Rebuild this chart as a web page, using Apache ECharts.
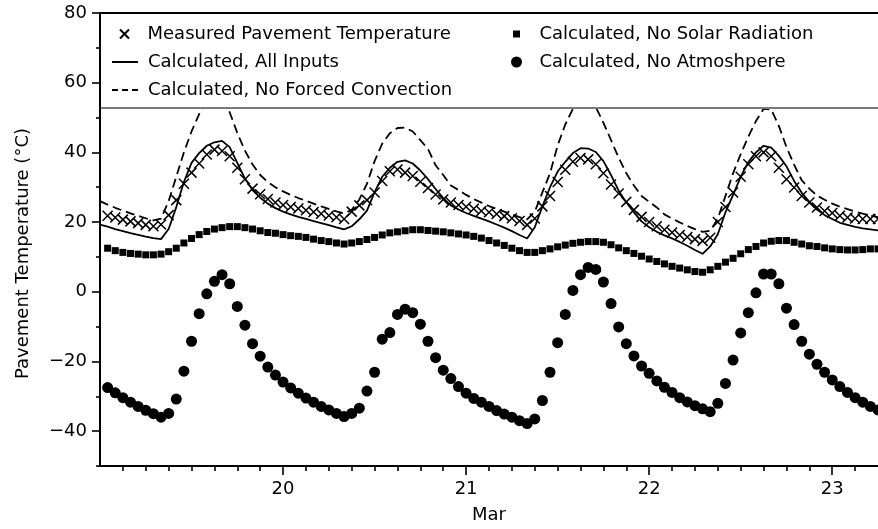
<!DOCTYPE html>
<html>
<head>
<meta charset="utf-8">
<script src="https://cdn.jsdelivr.net/npm/echarts@6/dist/echarts.min.js"></script>
<style>
  html, body { margin: 0; padding: 0; background: #fff; }
  #chart { width: 878px; height: 529px; }
</style>
</head>
<body>
<div id="chart"></div>
<script>
// Hourly samples starting 19 March 00:00 (x axis is the day of March)
const startDay = 19;

// Measured pavement temperature (°C), one value per hour
const measured = [
  null,
  21.8, 21.3, 20.7, 20.2, 19.7, 19.2, 18.8, 19.3, 22.0, 26.3,
  31.0, 34.2, 36.8, 39.4, 40.8, 40.4, 38.9, 35.6, 32.3, 29.6,
  28.0, 26.6, 25.6, 24.9, 24.3, 23.9, 23.4, 22.9, 22.4, 21.9,
  21.4, 20.9, 23.0, 24.8, 26.3, 28.5, 31.8, 34.6, 35.1, 34.2,
  33.2, 31.6, 29.8, 27.9, 26.5, 25.6, 24.9, 24.4, 23.8, 23.2,
  22.8, 22.3, 21.7, 21.1, 20.3, 19.2, 21.0, 24.5, 27.5, 31.5,
  35.0, 37.3, 38.4, 38.0, 36.6, 34.0, 30.8, 28.2, 25.8, 23.5,
  21.5, 20.0, 18.8, 17.8, 17.0, 16.3, 15.7, 15.1, 14.6, 15.5,
  20.0, 24.3, 28.5, 33.0, 36.6, 38.9, 40.0, 38.9, 35.6, 32.3,
  29.9, 27.5, 25.6, 24.2, 23.2, 22.6, 21.8, 21.3, 21.0, 20.9,
  20.9, 20.9
];

// Model, all inputs
const allInputs = [
  19.3, 18.7, 18.0, 17.4, 16.8, 16.3, 15.8, 15.4, 15.1, 18.0,
  24.3, 31.5, 37.0, 39.8, 41.9, 42.9, 43.3, 41.5, 37.0, 32.5,
  29.2, 27.0, 25.3, 24.0, 23.0, 22.2, 21.5, 20.9, 20.3, 19.7,
  19.1, 18.5, 17.9, 18.8, 20.8, 23.3, 28.6, 33.0, 35.6, 37.3,
  37.7, 36.8, 34.8, 32.3, 29.5, 26.9, 24.8, 23.6, 22.6, 21.8,
  21.0, 20.2, 19.3, 18.4, 17.4, 16.3, 15.3, 18.5, 24.5, 30.0,
  34.5, 37.3, 39.8, 41.2, 41.1, 40.1, 37.5, 33.5, 29.0, 25.6,
  22.8, 20.2, 18.5, 17.2, 16.2, 15.3, 14.3, 13.2, 12.0, 10.9,
  13.0, 16.5, 22.8, 27.8, 33.0, 37.2, 40.0, 41.9, 41.4, 39.0,
  36.0, 31.8, 28.4, 25.8, 23.6, 22.0, 20.9, 19.8, 19.2, 18.6,
  18.2, 17.9, 17.6
];

// Model without forced convection
const noForcedConvection = [
  26.0, 25.0, 24.1, 23.3, 22.5, 21.8, 21.1, 20.5, 21.0, 26.0,
  33.0, 40.0, 46.0, 51.0, 54.5, 56.5, 55.5, 51.5, 45.6, 40.5,
  36.5, 33.5, 31.5, 30.0, 28.8, 27.8, 26.9, 26.1, 25.3, 24.5,
  23.8, 23.1, 22.5, 23.5, 26.5, 31.0, 37.5, 42.5, 45.5, 47.0,
  47.1, 46.0, 43.5, 41.0, 36.3, 33.5, 30.5, 29.2, 27.8, 26.6,
  25.6, 24.6, 23.8, 23.0, 22.2, 21.4, 20.8, 23.0, 28.5, 34.0,
  42.0, 48.0, 52.5, 55.0, 55.5, 53.0, 48.5, 43.5, 38.5, 34.0,
  30.5, 27.5, 25.8, 24.2, 22.2, 21.0, 19.9, 18.9, 18.0, 17.2,
  17.5, 21.0, 27.5, 34.0, 39.5, 44.5, 49.0, 52.5, 52.3, 47.6,
  41.5, 36.5, 32.0, 29.6, 27.6, 26.4, 25.3, 24.4, 23.7, 23.0,
  22.4, 21.8, 21.4
];

// Model without solar radiation
const noSolarRadiation = [
  null,
  12.5, 11.8, 11.3, 11.0, 10.8, 10.6, 10.6, 10.8, 11.5, 12.5,
  14.0, 15.3, 16.4, 17.3, 18.0, 18.4, 18.7, 18.7, 18.4, 18.0,
  17.5, 17.0, 16.8, 16.4, 16.1, 15.9, 15.6, 15.1, 14.7, 14.4,
  14.0, 13.7, 14.0, 14.4, 15.0, 15.6, 16.3, 16.9, 17.2, 17.5,
  17.8, 17.8, 17.6, 17.4, 17.2, 16.9, 16.6, 16.3, 15.9, 15.4,
  14.7, 14.0, 13.3, 12.5, 11.8, 11.3, 11.3, 11.8, 12.3, 12.9,
  13.4, 13.9, 14.2, 14.4, 14.4, 14.2, 13.5, 12.6, 11.8, 11.0,
  10.2, 9.4, 8.7, 8.0, 7.3, 6.8, 6.3, 5.8, 5.6, 6.3,
  7.3, 8.5, 9.6, 10.9, 12.1, 13.0, 14.0, 14.5, 14.7, 14.7,
  14.2, 13.7, 13.2, 13.0, 12.6, 12.3, 12.1, 12.0, 12.0, 12.1,
  12.3, 12.3
];

// Model without atmosphere
const noAtmosphere = [
  null,
  -27.5, -29.0, -30.4, -31.7, -32.9, -34.0, -35.0, -36.0, -34.9, -30.8,
  -22.8, -14.2, -6.3, -0.6, 3.0, 4.9, 2.3, -4.2, -9.6, -14.9,
  -18.5, -21.6, -23.9, -25.9, -27.6, -29.1, -30.5, -31.7, -32.9, -33.9,
  -34.9, -35.8, -34.9, -33.4, -28.5, -23.1, -13.6, -11.7, -6.5, -5.0,
  -6.0, -9.3, -14.2, -18.9, -22.5, -24.9, -27.2, -29.1, -30.6, -31.7,
  -32.9, -34.1, -35.1, -36.0, -37.0, -37.8, -36.5, -31.2, -23.1, -14.6,
  -6.5, 0.4, 4.9, 7.0, 6.4, 2.8, -3.4, -10.1, -14.9, -18.4,
  -21.3, -23.4, -25.6, -27.4, -28.9, -30.4, -31.6, -32.7, -33.6, -34.4,
  -32.0, -26.3, -19.6, -11.8, -6.0, -0.3, 5.1, 5.1, 2.3, -4.7,
  -9.4, -14.2, -17.9, -20.8, -23.1, -25.3, -27.2, -28.9, -30.4, -31.7,
  -32.9, -33.9
];

const seriesNames = [
  'Measured Pavement Temperature',
  'Calculated, All Inputs',
  'Calculated, No Forced Convection',
  'Calculated, No Solar Radiation',
  'Calculated, No Atmoshpere'
];

const xTickDays = [20, 21, 22, 23];
const yTickValues = [-40, -20, 0, 20, 40, 60, 80];
const yMinorTickValues = [-50, -30, -10, 10, 30, 50, 70];

const FONT = 'DejaVu Sans';
const FONT_SIZE = 18;
const CROSS = 'path://M0,0L10,10M0,10L10,0';
const SQUARE = 'path://M0,0h10v10h-10z';
const SOLID_ICON = 'path://M0,0h26v2h-26z';
const DASH_ICON = 'path://M0,0h6v2h-6zM10,0h6v2h-6zM20,0h6v2h-6z';

function toPoints(values) {
  return values.map((v, i) => [startDay + i / 24, v]);
}

const chart = echarts.init(document.getElementById('chart'), null, { renderer: 'canvas' });

const textStyle = { fontFamily: FONT, fontSize: FONT_SIZE, color: '#000' };
const legendText = { fontFamily: FONT, fontSize: FONT_SIZE, color: '#000', lineHeight: 18, padding: [0, 0, 0, 5] };
const legendBase = { orient: 'vertical', itemWidth: 26, itemGap: 10, padding: 0, textStyle: legendText, selectedMode: false };

chart.setOption({
  animation: false,
  backgroundColor: '#fff',
  grid: { left: 100, right: 0, top: 13, bottom: 61, containLabel: false },
  xAxis: {
    type: 'value',
    min: 19,
    max: 23.25,
    interval: 1,
    name: 'Mar',
    nameLocation: 'middle',
    nameGap: 40,
    nameTextStyle: textStyle,
    axisLine: { onZero: false, lineStyle: { color: '#000', width: 2 } },
    axisTick: { customValues: xTickDays, length: 9, lineStyle: { color: '#000', width: 1.6 } },
    minorTick: { show: true, splitNumber: 8, length: 5, lineStyle: { color: '#000', width: 1.6 } },
    axisLabel: Object.assign({ customValues: xTickDays, margin: 14 }, textStyle),
    splitLine: { show: false },
    minorSplitLine: { show: false }
  },
  yAxis: [
    {
      type: 'value',
      min: -50,
      max: 80,
      interval: 10,
      name: 'Pavement Temperature (°C)',
      nameLocation: 'middle',
      nameGap: 68,
      nameTextStyle: Object.assign({ padding: [0, 28, 0, 0] }, textStyle),
      axisLine: { onZero: false, lineStyle: { color: '#000', width: 2 } },
      axisTick: { customValues: yTickValues, length: 8, lineStyle: { color: '#000', width: 1.6 } },
      axisLabel: Object.assign({
        customValues: yTickValues,
        margin: 13,
        formatter: v => String(v).replace('-', '\u2212')
      }, textStyle),
      splitLine: { show: false }
    },
    {
      // short unlabelled ticks between the labelled ones
      type: 'value',
      min: -50,
      max: 80,
      interval: 10,
      position: 'left',
      axisLine: { show: false, onZero: false },
      axisTick: { customValues: yMinorTickValues, length: 4, lineStyle: { color: '#000', width: 1.6 } },
      axisLabel: { show: false },
      splitLine: { show: false }
    }
  ],
  legend: [
    Object.assign({}, legendBase, {
      data: [{ name: seriesNames[0], icon: CROSS, itemStyle: { color: 'transparent', borderColor: '#000', borderWidth: 2 } }],
      left: 119, top: 25, itemHeight: 9
    }),
    Object.assign({}, legendBase, {
      data: [
        { name: seriesNames[1], icon: SOLID_ICON, itemStyle: { color: '#000', borderWidth: 0 } },
        { name: seriesNames[2], icon: DASH_ICON, itemStyle: { color: '#000', borderWidth: 0 } }
      ],
      left: 112, top: 53, itemHeight: 2
    }),
    Object.assign({}, legendBase, {
      data: [{ name: seriesNames[3], icon: SQUARE, itemStyle: { color: '#000', borderWidth: 0 } }],
      left: 513, top: 25, itemHeight: 7
    }),
    Object.assign({}, legendBase, {
      data: [{ name: seriesNames[4], icon: 'circle', itemStyle: { color: '#000', borderWidth: 0 } }],
      left: 511, top: 53, itemHeight: 11
    })
  ],
  graphic: [
    // legend panel across the top of the plot
    { type: 'rect', z: 3, silent: true, shape: { x: 101, y: 12, width: 800, height: 96 }, style: { fill: '#fff' } },
    { type: 'line', z: 3, silent: true, shape: { x1: 99, y1: 13, x2: 880, y2: 13 }, style: { stroke: '#000', lineWidth: 2 } },
    { type: 'line', z: 3, silent: true, shape: { x1: 101, y1: 108, x2: 880, y2: 108 }, style: { stroke: '#7a7a7a', lineWidth: 2 } }
  ],
  series: [
    {
      name: seriesNames[1],
      type: 'line',
      data: toPoints(allInputs),
      symbol: 'none',
      lineStyle: { color: '#000', width: 1.8 },
      itemStyle: { color: '#000' },
      z: 2
    },
    {
      name: seriesNames[2],
      type: 'line',
      data: toPoints(noForcedConvection),
      symbol: 'none',
      lineStyle: { color: '#000', width: 1.8, type: [9, 5] },
      itemStyle: { color: '#000' },
      z: 2
    },
    {
      name: seriesNames[3],
      type: 'scatter',
      data: toPoints(noSolarRadiation),
      symbol: 'rect',
      symbolSize: 7,
      itemStyle: { color: '#000', opacity: 1 },
      z: 2
    },
    {
      name: seriesNames[4],
      type: 'scatter',
      data: toPoints(noAtmosphere),
      symbol: 'circle',
      symbolSize: 11,
      itemStyle: { color: '#000', opacity: 1 },
      z: 2
    },
    {
      name: seriesNames[0],
      type: 'scatter',
      data: toPoints(measured),
      symbol: CROSS,
      symbolSize: 10,
      itemStyle: { color: 'transparent', borderColor: '#000', borderWidth: 1.5, opacity: 1 },
      z: 2
    }
  ]
});
</script>
</body>
</html>
